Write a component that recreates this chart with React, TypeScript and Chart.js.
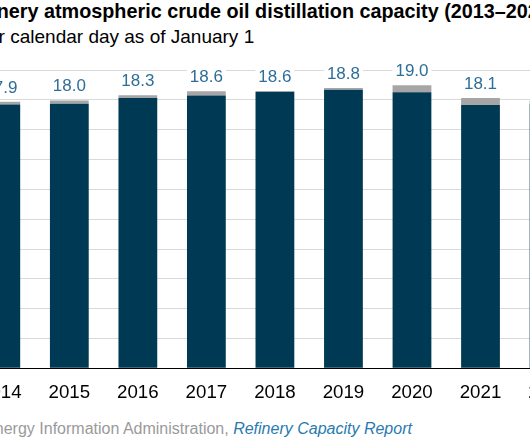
import React, { useEffect, useRef } from "react";
import { Chart, registerables } from "chart.js";

Chart.register(...registerables);

// ---- data ----
const years = ["2013", "2014", "2015", "2016", "2017", "2018", "2019", "2020", "2021", "2022"];
// operating capacity (million b/cd), dark bars
const operating = [17.32, 17.69, 17.74, 18.12, 18.29, 18.52, 18.67, 18.51, 17.65, 17.73];
// idle capacity (million b/cd), gray caps
const idle = [0.5, 0.18, 0.22, 0.19, 0.28, 0.08, 0.12, 0.47, 0.48, 0.21];
const yMin = 0;
const yMax = 20;
const yStep = 2;

const TITLE = "U.S. refinery atmospheric crude oil distillation capacity (2013\u20132022)";
const SUBTITLE = "million barrels per calendar day as of January 1";
const SOURCE_PREFIX = "Source: U.S. Energy Information Administration, ";
const SOURCE_REPORT = "Refinery Capacity Report";

const FONT = "'Liberation Sans', Arial, sans-serif";

const totalLabels = {
  id: "totalLabels",
  afterDatasetsDraw(chart: any) {
    const ctx = chart.ctx;
    const meta = chart.getDatasetMeta(1);
    ctx.save();
    ctx.font = `17px ${FONT}`;
    ctx.textAlign = "center";
    ctx.textBaseline = "alphabetic";
    meta.data.forEach((el: any, i: number) => {
      const total = operating[i] + idle[i];
      const txt = total.toFixed(1);
      const x = el.x;
      const y = el.y - 9;
      const w = ctx.measureText(txt).width;
      ctx.fillStyle = "#ffffff";
      ctx.fillRect(x - w / 2 - 3, y - 15, w + 6, 18);
      ctx.fillStyle = "#2e6e99";
      ctx.fillText(txt, x, y);
    });
    ctx.restore();
  },
};

export default function App() {
  const ref = useRef<HTMLCanvasElement | null>(null);

  useEffect(() => {
    if (!ref.current) return;
    const chart = new Chart(ref.current, {
      type: "bar",
      data: {
        labels: years,
        datasets: [
          {
            label: "operating",
            data: operating,
            backgroundColor: "#003953",
            categoryPercentage: 1,
            barPercentage: 0.566,
            stack: "s",
          },
          {
            label: "idle",
            data: idle,
            backgroundColor: "#a6a6a6",
            categoryPercentage: 1,
            barPercentage: 0.566,
            stack: "s",
          },
        ],
      },
      options: {
        responsive: false,
        animation: false,
        devicePixelRatio: 1,
        layout: { padding: { left: 8, right: 6.7, top: 20, bottom: 2 } },
        plugins: {
          legend: { display: false },
          tooltip: { enabled: false },
          title: { display: false },
        },
        scales: {
          x: {
            stacked: true,
            grid: { display: false, drawTicks: false },
            border: { display: true, color: "#000000", width: 1 },
            ticks: {
              color: "#000000",
              font: { family: FONT, size: 18.7 },
              padding: 13.6,
              maxRotation: 0,
              autoSkip: false,
            },
          },
          y: {
            stacked: true,
            min: yMin,
            max: yMax,
            ticks: { display: false, stepSize: yStep },
            grid: { color: "#d9d9d9", lineWidth: 1, drawTicks: false },
            border: { display: false },
          },
        },
      },
      plugins: [totalLabels],
    });
    return () => chart.destroy();
  }, []);

  return (
    <div
      style={{
        position: "fixed",
        left: 0,
        top: 0,
        width: 530,
        height: 442,
        overflow: "hidden",
        background: "#ffffff",
      }}
    >
      <div
        style={{
          position: "absolute",
          left: -78,
          top: 2,
          font: `bold 19.8px/19.8px ${FONT}`,
          whiteSpace: "nowrap",
          color: "#000000",
        }}
      >
        {TITLE}
      </div>
      <div
        style={{
          position: "absolute",
          left: -145,
          top: 27,
          font: `19px/19px ${FONT}`,
          whiteSpace: "nowrap",
          color: "#000000",
        }}
      >
        {SUBTITLE}
      </div>
      <canvas
        ref={ref}
        width={700}
        height={370}
        style={{ position: "absolute", left: -110, top: 50, width: 700, height: 370 }}
      />
      <div
        style={{
          position: "absolute",
          left: -111,
          top: 420.8,
          font: `16px/16px ${FONT}`,
          whiteSpace: "nowrap",
          color: "#9a9a9a",
        }}
      >
        {SOURCE_PREFIX}
        <span style={{ fontStyle: "italic", color: "#2a7ab0" }}>{SOURCE_REPORT}</span>
      </div>
    </div>
  );
}
